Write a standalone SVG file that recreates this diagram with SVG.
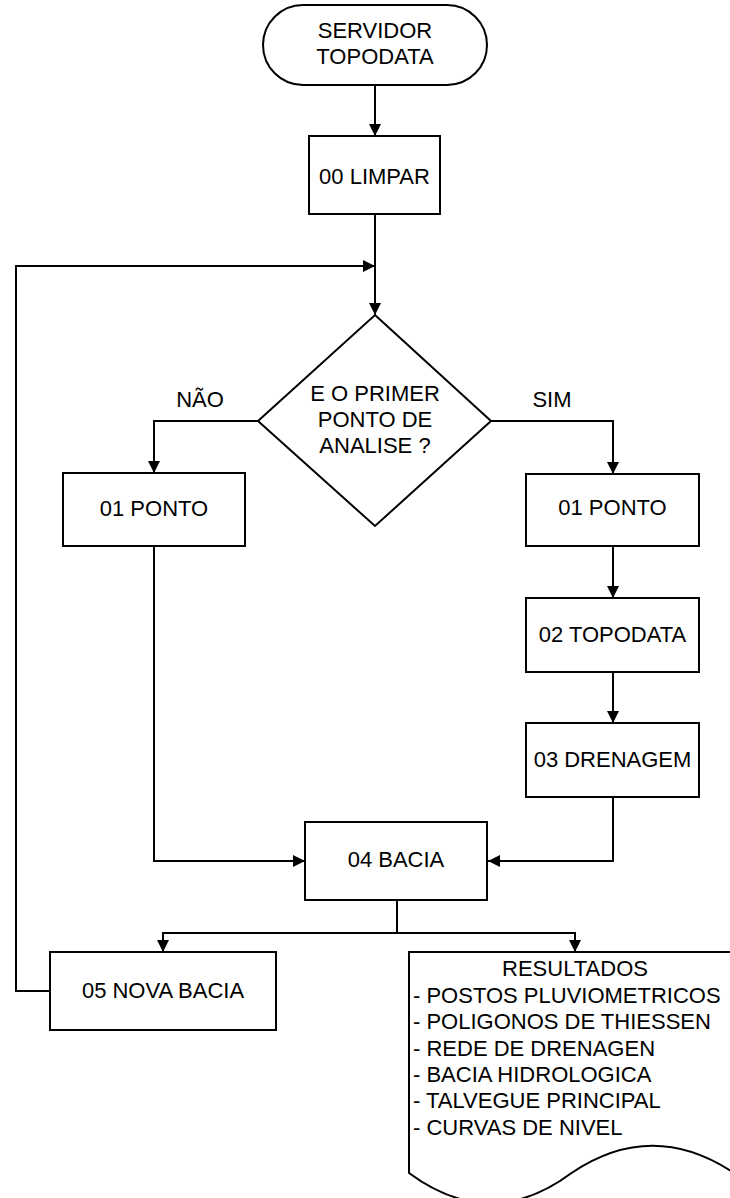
<svg xmlns="http://www.w3.org/2000/svg" width="730" height="1198" viewBox="0 0 730 1198">
<style>
.n{fill:#fff;stroke:#000;stroke-width:2}
.c{fill:none;stroke:#000;stroke-width:2}
.a{marker-end:url(#ah)}
text{font-family:"Liberation Sans",Arial,sans-serif;font-size:22px;fill:#000}
.m{text-anchor:middle}
</style>
<defs>
<marker id="ah" markerUnits="userSpaceOnUse" markerWidth="13" markerHeight="13" refX="12" refY="6.5" orient="auto">
<path d="M0,0.5 L12,6.5 L0,12.5 z" fill="#000"/>
</marker>
</defs>
<rect width="730" height="1198" fill="#fff"/>
<g id="connectors">
<path class="c a" d="M375,85 V136"/>
<path class="c a" d="M375,214 V315"/>
<path class="c a" d="M50,991 H16 V266 H375"/>
<path class="c a" d="M258,421 H154 V473"/>
<path class="c a" d="M491,421 H613 V474"/>
<path class="c a" d="M613,546 V598"/>
<path class="c a" d="M613,672 V723"/>
<path class="c a" d="M613,797 V861 H488"/>
<path class="c a" d="M154,546 V861 H305"/>
<path class="c" d="M397,900 V933"/>
<path class="c a" d="M397,933 H163 V952"/>
<path class="c a" d="M397,933 H575 V952"/>
<text x="200" y="407" class="m">NÃO</text>
<text x="552" y="407" class="m">SIM</text>
</g>
<g id="servidor">
<rect class="n" x="263" y="5" width="224" height="80" rx="40" ry="40"/>
<text x="375" y="38" class="m">SERVIDOR</text>
<text x="375" y="64" class="m">TOPODATA</text>
</g>
<g id="limpar">
<rect class="n" x="309" y="136" width="131" height="78"/>
<text x="374.5" y="184" class="m">00 LIMPAR</text>
</g>
<g id="decisao">
<path class="n" d="M375,315 L491,421 L375,526 L258,421 z"/>
<text x="375" y="401" class="m">E O PRIMER</text>
<text x="375" y="427" class="m">PONTO DE</text>
<text x="375" y="453" class="m">ANALISE ?</text>
</g>
<g id="ponto-nao">
<rect class="n" x="63" y="473" width="182" height="73"/>
<text x="154" y="516" class="m">01 PONTO</text>
</g>
<g id="ponto-sim">
<rect class="n" x="526" y="474" width="173" height="72"/>
<text x="612.5" y="515" class="m">01 PONTO</text>
</g>
<g id="topodata">
<rect class="n" x="526" y="598" width="173" height="74"/>
<text x="612.5" y="642" class="m">02 TOPODATA</text>
</g>
<g id="drenagem">
<rect class="n" x="526" y="723" width="173" height="74"/>
<text x="612.5" y="767" class="m">03 DRENAGEM</text>
</g>
<g id="bacia">
<rect class="n" x="305" y="822" width="182" height="78"/>
<text x="396" y="867" class="m">04 BACIA</text>
</g>
<g id="nova-bacia">
<rect class="n" x="50" y="952" width="226" height="78"/>
<text x="163" y="998" class="m">05 NOVA BACIA</text>
</g>
<g id="resultados">
<path class="n" d="M409,952 H734 V1173 C680,1137 625,1137 571.5,1173 C518,1213 463,1213 409,1173 z"/>
<text x="575" y="976" class="m">RESULTADOS</text>
<text x="413" y="1003">- POSTOS PLUVIOMETRICOS</text>
<text x="413" y="1029">- POLIGONOS DE THIESSEN</text>
<text x="413" y="1056">- REDE DE DRENAGEN</text>
<text x="413" y="1082">- BACIA HIDROLOGICA</text>
<text x="413" y="1108">- TALVEGUE PRINCIPAL</text>
<text x="413" y="1135">- CURVAS DE NIVEL</text>
</g>
</svg>
